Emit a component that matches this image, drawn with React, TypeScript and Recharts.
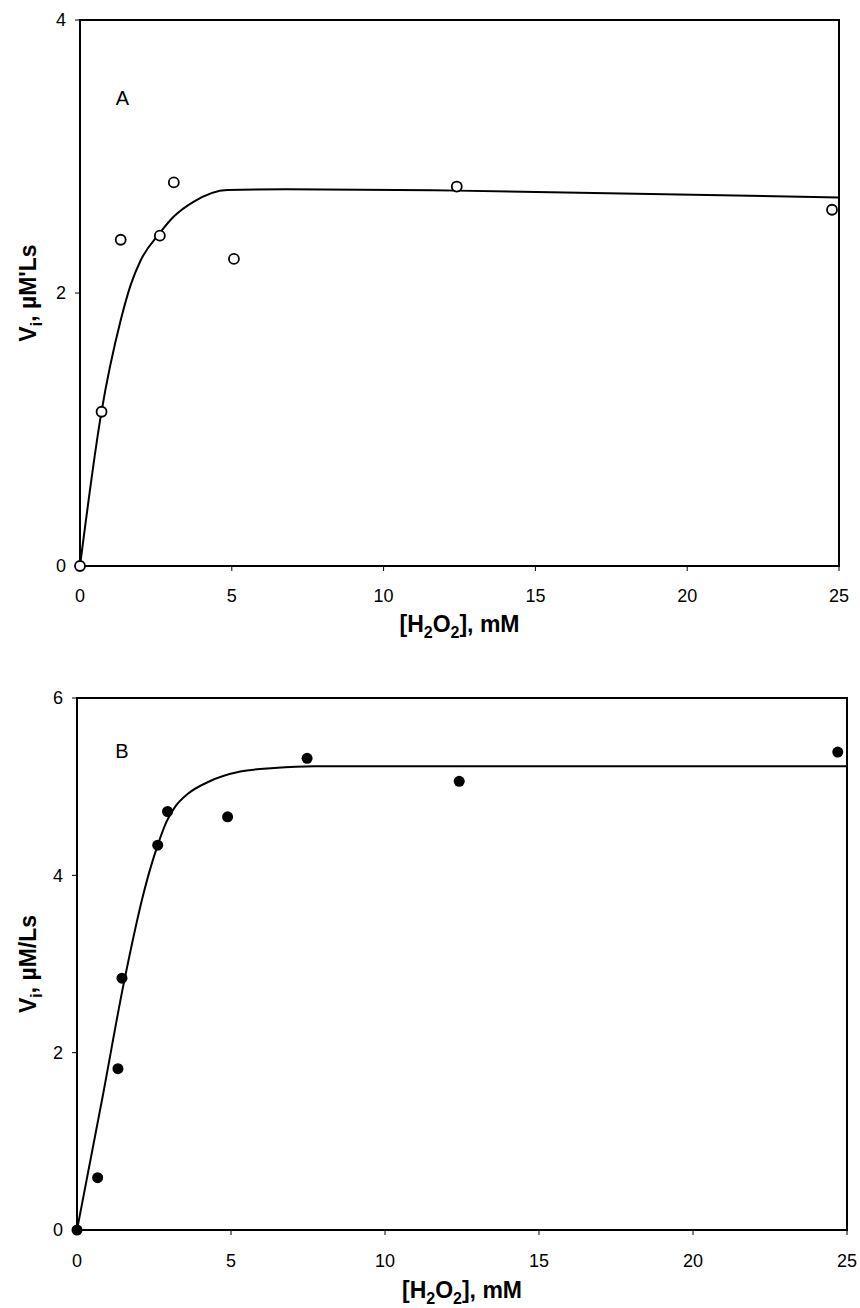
import React from 'react';
import {
  ComposedChart, Line, Scatter, XAxis, YAxis, ReferenceArea, ReferenceDot,
} from 'recharts';

// Panel A (open circles)
const aObsX = [0, 0.71, 1.34, 2.63, 3.09, 5.07, 12.41, 24.77];
const aObsY = [0, 1.13, 2.39, 2.42, 2.81, 2.25, 2.78, 2.61];
const aFitX = [0, 0.7, 1.34, 1.67, 2.0, 2.63, 3.09, 3.75, 4.85, 6.8, 12.4, 25];
const aFitY = [0, 1.12, 1.8, 2.06, 2.24, 2.44, 2.56, 2.67, 2.755, 2.76, 2.75, 2.7];

// Panel B (filled circles)
const bObsX = [0, 0.67, 1.33, 1.46, 2.62, 2.94, 4.89, 7.47, 12.41, 24.7];
const bObsY = [0, 0.59, 1.82, 2.84, 4.34, 4.72, 4.66, 5.32, 5.06, 5.39];
const bFitX = [0, 0.83, 1.5, 2.2, 2.62, 2.9, 3.2, 3.6, 4.24, 5.3, 6.4, 7.7, 12.5, 25];
const bFitY = [0, 1.5, 2.75, 3.85, 4.34, 4.6, 4.78, 4.92, 5.05, 5.17, 5.21, 5.23, 5.23, 5.23];

const xTicks = [0, 5, 10, 15, 20, 25];
const aYTicks = [0, 2, 4];
const bYTicks = [0, 2, 4, 6];

const zip = (xs: number[], ys: number[]) => xs.map((x, i) => ({ x, y: ys[i] }));

const FONT = '"Liberation Sans", Arial, sans-serif';

const XTitle = (props: any) => {
  const { viewBox, off } = props;
  const cx = viewBox.x + viewBox.width / 2;
  const by = viewBox.y + off;
  return (
    <text x={cx} y={by} textAnchor="middle" fontWeight="bold" fontSize={23} fill="#000" fontFamily={FONT}>
      [H<tspan dy={6} fontSize={16}>2</tspan><tspan dy={-6}>O</tspan><tspan dy={6} fontSize={16}>2</tspan><tspan dy={-6}>], mM</tspan>
    </text>
  );
};

const YTitle = (props: any) => {
  const { viewBox, bx, unit } = props;
  const cy = viewBox.y + viewBox.height / 2;
  return (
    <text x={bx} y={cy} transform={`rotate(-90, ${bx}, ${cy})`} textAnchor="middle" fontWeight="bold" fontSize={23} fill="#000" fontFamily={FONT}>
      V<tspan dy={6} fontSize={16}>i</tspan><tspan dy={-6}>{`, \u00B5M${unit}Ls`}</tspan>
    </text>
  );
};

const OpenDot = (p: any) => (
  <circle cx={p.cx} cy={p.cy} r={5} fill="#fff" stroke="#000" strokeWidth={1.8} />
);
const FilledDot = (p: any) => (
  <circle cx={p.cx} cy={p.cy} r={5.5} fill="#000" stroke="#000" strokeWidth={0} />
);

type PanelProps = {
  height: number;
  margin: { top: number; right: number; bottom: number; left: number };
  yWidth: number;
  xHeight: number;
  yMax: number;
  yTicks: number[];
  obs: { x: number; y: number }[];
  fit: { x: number; y: number }[];
  dot: any;
  letter: string;
  letterX: number;
  letterY: number;
  unit: string;
  xTickMargin: number;
  xTitleOff: number;
};

const Panel = (p: PanelProps) => (
  <ComposedChart width={860} height={p.height} margin={p.margin}>
    <XAxis
      type="number"
      dataKey="x"
      domain={[0, 25]}
      ticks={xTicks}
      height={p.xHeight}
      tickSize={5}
      tickMargin={p.xTickMargin}
      axisLine={{ stroke: '#000', strokeWidth: 2 }}
      tickLine={{ stroke: '#000', strokeWidth: 1 }}
      tick={{ fill: '#000', fontSize: 18, fontFamily: FONT }}
      label={<XTitle off={p.xTitleOff} />}
    />
    <YAxis
      type="number"
      dataKey="y"
      domain={[0, p.yMax]}
      ticks={p.yTicks}
      width={p.yWidth}
      tickSize={5}
      tickMargin={9}
      axisLine={{ stroke: '#000', strokeWidth: 2 }}
      tickLine={{ stroke: '#000', strokeWidth: 1 }}
      tick={{ fill: '#000', fontSize: 18, fontFamily: FONT }}
      label={<YTitle bx={36} unit={p.unit} />}
    />
    <ReferenceArea x1={0} x2={25} y1={0} y2={p.yMax} fill="none" stroke="#000" strokeWidth={2} ifOverflow="visible" />
    <Line
      data={p.fit}
      dataKey="y"
      type="monotone"
      stroke="#000"
      strokeWidth={2}
      dot={false}
      activeDot={false}
      isAnimationActive={false}
    />
    <Scatter data={p.obs} dataKey="y" shape={p.dot} isAnimationActive={false} />
    <ReferenceDot
      x={p.letterX}
      y={p.letterY}
      r={0}
      fill="none"
      stroke="none"
      label={{ value: p.letter, position: 'center', fontSize: 20, fill: '#000', fontFamily: FONT }}
    />
  </ComposedChart>
);

export default function App() {
  return (
    <div style={{ position: 'absolute', left: 0, top: 0, width: 860, height: 1308, background: '#fff', fontFamily: FONT }}>
      <Panel
        height={650}
        margin={{ top: 20, right: 21, bottom: 0, left: 0 }}
        yWidth={80}
        xHeight={84}
        yMax={4}
        yTicks={aYTicks}
        obs={zip(aObsX, aObsY)}
        fit={zip(aFitX, aFitY)}
        dot={OpenDot}
        letter="A"
        letterX={1.4}
        letterY={3.43}
        unit="'"
        xTickMargin={18}
        xTitleOff={66}
      />
      <Panel
        height={658}
        margin={{ top: 48, right: 13, bottom: 0, left: 0 }}
        yWidth={77}
        xHeight={78}
        yMax={6}
        yTicks={bYTicks}
        obs={zip(bObsX, bObsY)}
        fit={zip(bFitX, bFitY)}
        dot={FilledDot}
        letter="B"
        letterX={1.46}
        letterY={5.4}
        unit="/"
        xTickMargin={19}
        xTitleOff={68}
      />
    </div>
  );
}
